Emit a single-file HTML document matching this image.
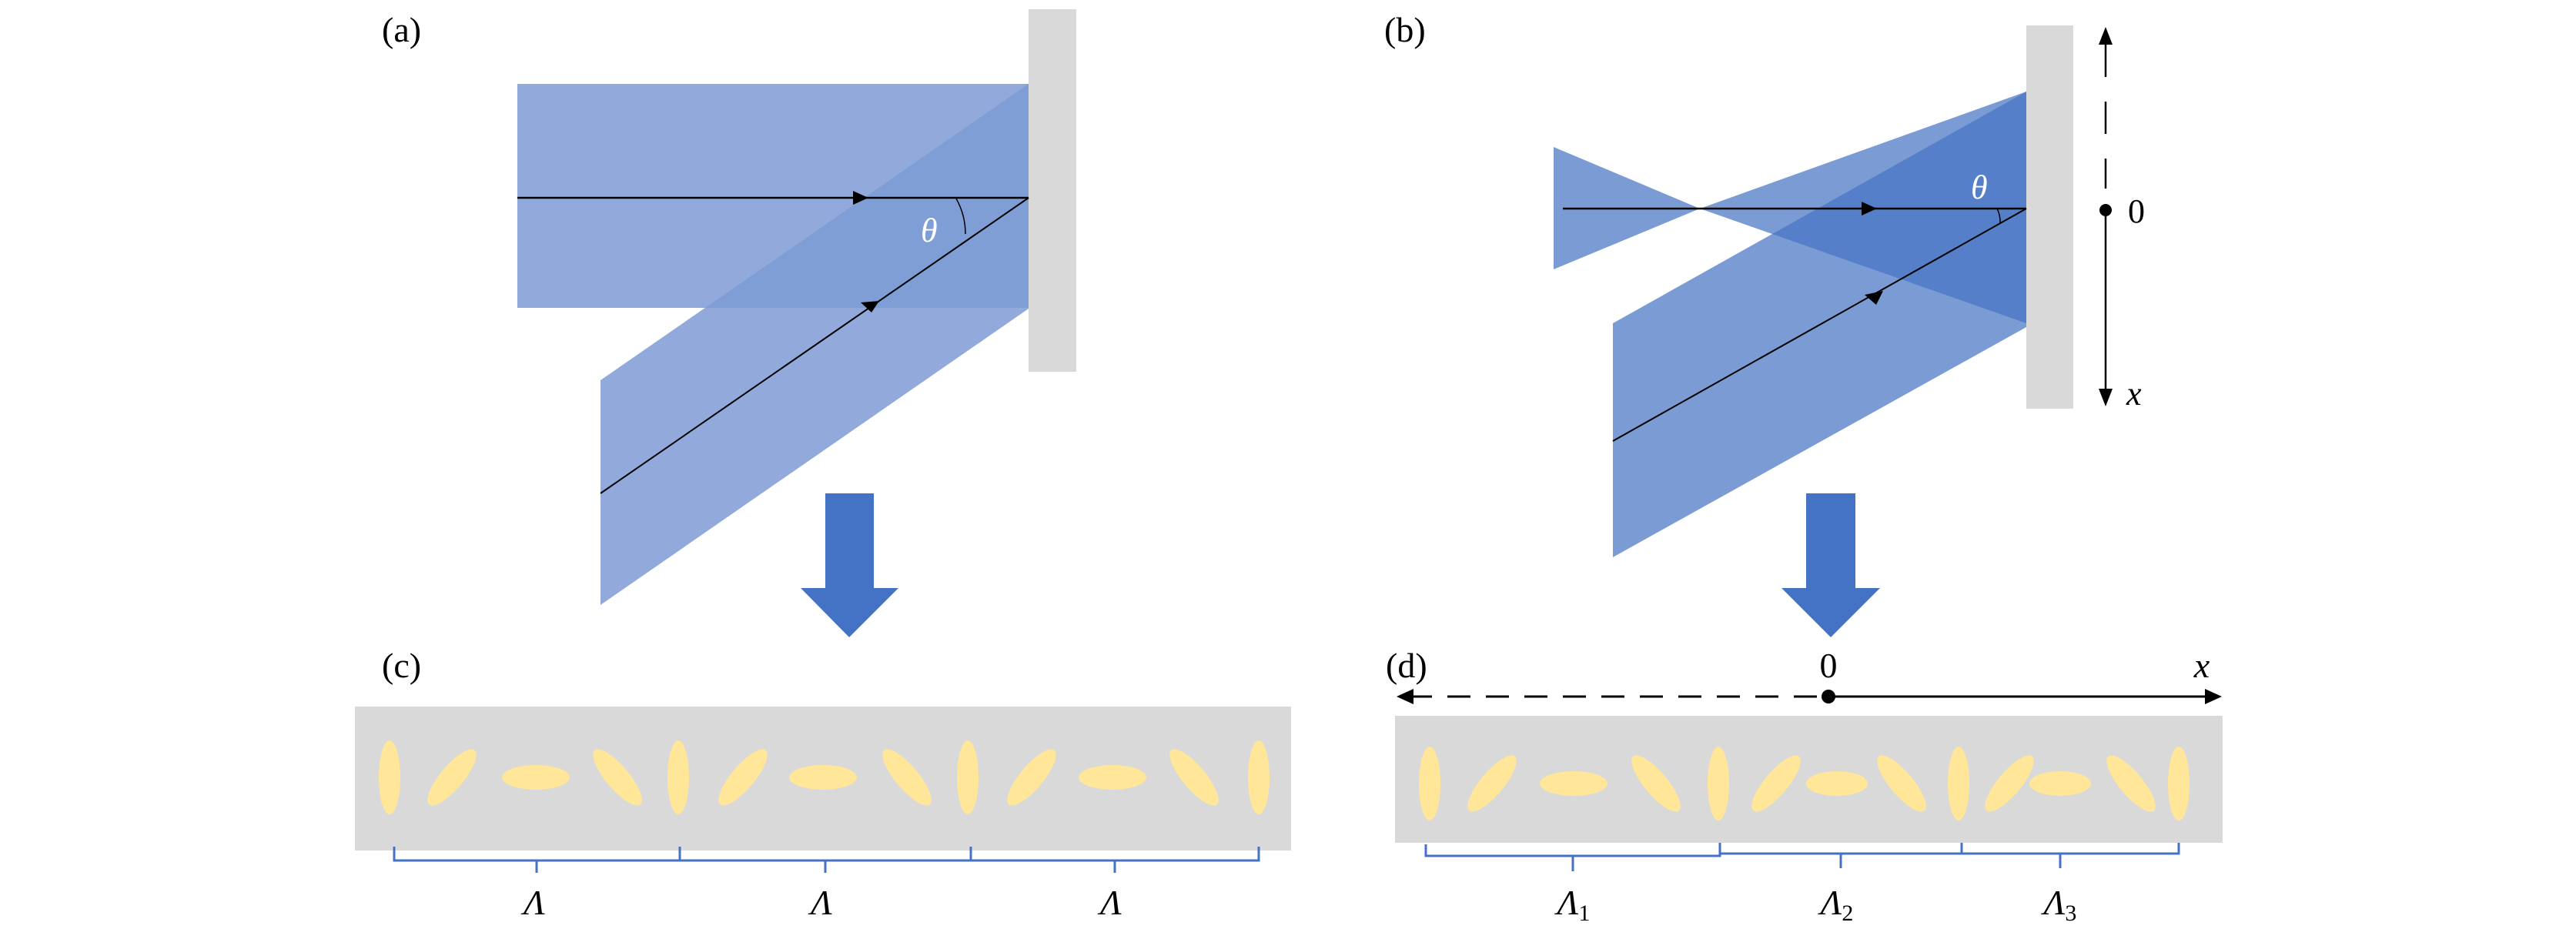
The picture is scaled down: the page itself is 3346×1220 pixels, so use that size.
<!DOCTYPE html>
<html><head><meta charset="utf-8"><style>
html,body{margin:0;padding:0;background:#fff;}
svg{display:block;}
text{font-family:"Liberation Serif",serif;}
</style></head><body>
<svg width="3346" height="1220" viewBox="0 0 3346 1220" xmlns="http://www.w3.org/2000/svg">
<!-- Panel a -->
<text x="496" y="54" font-size="46">(a)</text>
<rect x="1336" y="12" width="62" height="471" fill="#d9d9d9"/>
<rect x="672" y="109" width="664" height="291" fill="#91aadb"/>
<polygon points="780,494 1336,109 1336,401 780,786" fill="#91aadb"/>
<polygon points="916,400 1336,109 1336,400" fill="#7f9ed5"/>
<line x1="672" y1="257" x2="1336" y2="257" stroke="#000" stroke-width="2.5"/>
<polygon points="1108,248 1128,257 1108,266" fill="#000"/>
<line x1="780" y1="641" x2="1336" y2="257" stroke="#000" stroke-width="2"/>
<polygon points="1118,393 1142,391 1132,406" fill="#000"/>
<path d="M1242,258 A94,94 0 0 1 1254,304" fill="none" stroke="#000" stroke-width="1.5"/>
<text x="1196" y="314" font-size="44" font-style="italic" fill="#fff">θ</text>
<polygon points="1072,641 1135,641 1135,764 1167,764 1103,828 1040,764 1072,764" fill="#4472c4"/>

<!-- Panel b -->
<text x="1798" y="54" font-size="46">(b)</text>
<rect x="2632" y="33" width="61" height="498" fill="#d9d9d9"/>
<polygon points="2018,191 2018,350 2208,271" fill="#7b9bd4"/>
<polygon points="2208,271 2632,119 2632,420" fill="#7b9bd4"/>
<polygon points="2095,420 2632,119 2632,425 2095,724" fill="#7b9bd4"/>
<polygon points="2302,304 2632,119 2632,420" fill="#5580c9"/>
<line x1="2030" y1="271" x2="2632" y2="271" stroke="#000" stroke-width="2.5"/>
<polygon points="2418,262 2438,271 2418,280" fill="#000"/>
<line x1="2095" y1="573" x2="2632" y2="271" stroke="#000" stroke-width="2"/>
<polygon points="2422,383 2446,378 2437,396" fill="#000"/>
<path d="M2594,271 A38,38 0 0 1 2598,290" fill="none" stroke="#000" stroke-width="1.5"/>
<text x="2560" y="258" font-size="44" font-style="italic" fill="#fff">θ</text>
<line x1="2735" y1="58" x2="2735" y2="245" stroke="#000" stroke-width="2.5" stroke-dasharray="42,32"/>
<polygon points="2726,58 2735,35 2744,58" fill="#000"/>
<circle cx="2735" cy="273" r="8" fill="#000"/>
<line x1="2735" y1="273" x2="2735" y2="508" stroke="#000" stroke-width="2.5"/>
<polygon points="2726,505 2735,528 2744,505" fill="#000"/>
<text x="2764" y="289" font-size="44">0</text>
<text x="2762" y="526" font-size="44" font-style="italic">x</text>
<polygon points="2346,641 2410,641 2410,764 2442,764 2378,828 2314,764 2346,764" fill="#4472c4"/>

<!-- Panel c -->
<text x="496" y="880" font-size="46">(c)</text>
<rect x="461" y="918" width="1216" height="187" fill="#d9d9d9"/>
<g fill="#ffe699">
<ellipse cx="506" cy="1010" rx="14" ry="48"/>
<ellipse cx="587" cy="1010" rx="15" ry="46" transform="rotate(40 587 1010)"/>
<ellipse cx="696" cy="1010" rx="44" ry="16"/>
<ellipse cx="802" cy="1010" rx="15" ry="46" transform="rotate(-40 802 1010)"/>
<ellipse cx="881" cy="1010" rx="14" ry="48"/>
<ellipse cx="965" cy="1010" rx="15" ry="46" transform="rotate(40 965 1010)"/>
<ellipse cx="1069" cy="1010" rx="44" ry="16"/>
<ellipse cx="1178" cy="1010" rx="15" ry="46" transform="rotate(-40 1178 1010)"/>
<ellipse cx="1257" cy="1010" rx="14" ry="48"/>
<ellipse cx="1340" cy="1010" rx="15" ry="46" transform="rotate(40 1340 1010)"/>
<ellipse cx="1445" cy="1010" rx="44" ry="16"/>
<ellipse cx="1551" cy="1010" rx="15" ry="46" transform="rotate(-40 1551 1010)"/>
<ellipse cx="1635" cy="1010" rx="14" ry="48"/>
</g>
<g fill="none" stroke="#4472c4" stroke-width="3">
<path d="M512,1100 V1118 H883 V1100 M883,1118 H1261 V1100 M1261,1118 H1635 V1100 M697,1118 V1134 M1072,1118 V1134 M1448,1118 V1134"/>
</g>
<text x="694" y="1188" font-size="46" font-style="italic" text-anchor="middle">Λ</text>
<text x="1067" y="1188" font-size="46" font-style="italic" text-anchor="middle">Λ</text>
<text x="1443" y="1188" font-size="46" font-style="italic" text-anchor="middle">Λ</text>

<!-- Panel d -->
<text x="1800" y="880" font-size="46">(d)</text>
<text x="2375" y="880" font-size="46" text-anchor="middle">0</text>
<text x="2860" y="880" font-size="46" font-style="italic" text-anchor="middle">x</text>
<line x1="1830" y1="905" x2="2375" y2="905" stroke="#000" stroke-width="3" stroke-dasharray="30,20"/>
<line x1="2375" y1="905" x2="2870" y2="905" stroke="#000" stroke-width="3"/>
<polygon points="1814,905 1836,895 1836,915" fill="#000"/>
<polygon points="2886,905 2864,895 2864,915" fill="#000"/>
<circle cx="2375" cy="905" r="9" fill="#000"/>
<rect x="1812" y="930" width="1075" height="165" fill="#d9d9d9"/>
<g fill="#ffe699">
<ellipse cx="1857" cy="1018" rx="14" ry="48"/>
<ellipse cx="1938" cy="1018" rx="15" ry="46" transform="rotate(40 1938 1018)"/>
<ellipse cx="2044" cy="1018" rx="44" ry="16"/>
<ellipse cx="2151" cy="1018" rx="15" ry="46" transform="rotate(-40 2151 1018)"/>
<ellipse cx="2232" cy="1018" rx="14" ry="48"/>
<ellipse cx="2307" cy="1018" rx="15" ry="46" transform="rotate(40 2307 1018)"/>
<ellipse cx="2386" cy="1018" rx="40" ry="16"/>
<ellipse cx="2470" cy="1018" rx="15" ry="46" transform="rotate(-40 2470 1018)"/>
<ellipse cx="2544" cy="1018" rx="14" ry="48"/>
<ellipse cx="2610" cy="1018" rx="15" ry="46" transform="rotate(40 2610 1018)"/>
<ellipse cx="2676" cy="1018" rx="40" ry="16"/>
<ellipse cx="2768" cy="1018" rx="15" ry="46" transform="rotate(-40 2768 1018)"/>
<ellipse cx="2830" cy="1018" rx="14" ry="48"/>
</g>
<g fill="none" stroke="#4472c4" stroke-width="3">
<path d="M1852,1097 V1112 H2234 V1095 M2234,1109 H2548 V1095 M2548,1109 H2830 V1095 M2043,1112 V1132 M2391,1109 V1128 M2676,1109 V1128"/>
</g>
<text x="2044" y="1188" font-size="46" font-style="italic" text-anchor="middle">Λ<tspan font-size="30" font-style="normal" dy="8">1</tspan></text>
<text x="2386" y="1188" font-size="46" font-style="italic" text-anchor="middle">Λ<tspan font-size="30" font-style="normal" dy="8">2</tspan></text>
<text x="2676" y="1188" font-size="46" font-style="italic" text-anchor="middle">Λ<tspan font-size="30" font-style="normal" dy="8">3</tspan></text>
</svg>
</body></html>
